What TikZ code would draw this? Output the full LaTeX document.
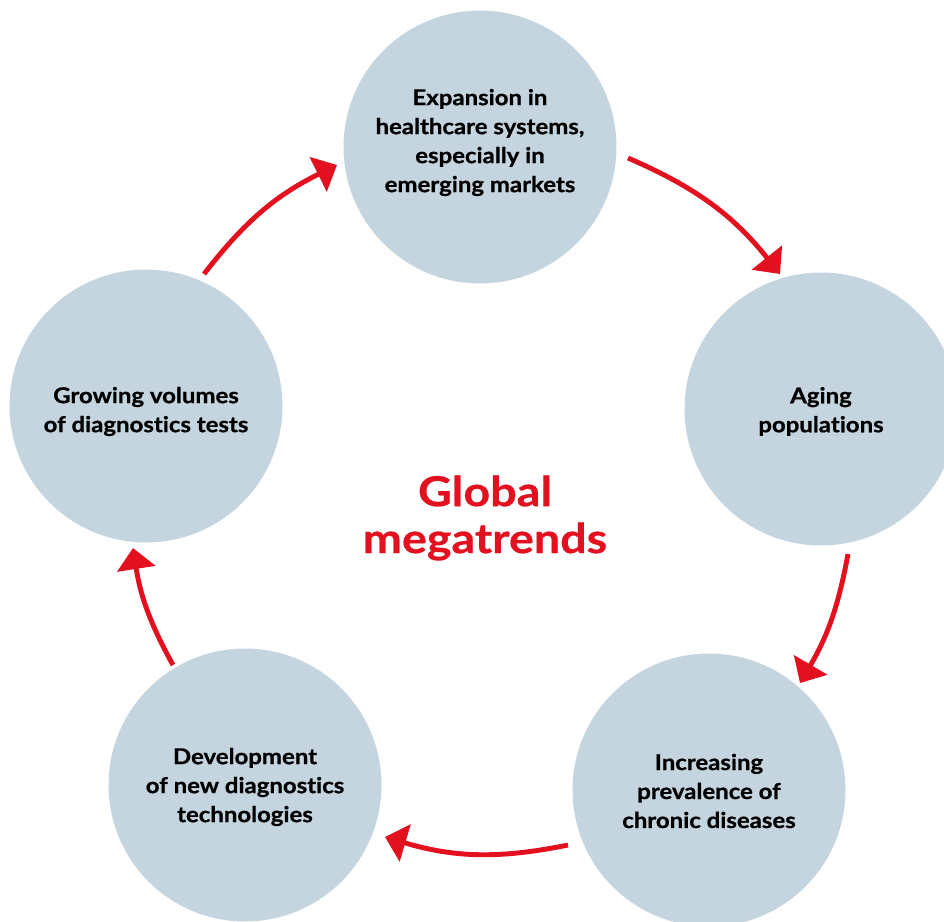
\documentclass[tikz,border=0pt]{standalone}
\usepackage{fontspec}
\setmainfont{Lato}
\newfontfamily\bubfont{Lato}[FakeStretch=1.1,FakeBold=0.8,Ligatures=NoCommon]
\newfontfamily\ttlfont{Lato}[FakeStretch=1.13,FakeBold=0.6,Ligatures=NoCommon]
\usetikzlibrary{arrows.meta}
\definecolor{bub}{RGB}{197,213,224}
\definecolor{mred}{RGB}{227,16,31}
\begin{document}
\begin{tikzpicture}[x=0.02cm,y=-0.02cm,
  bubble/.style={circle,fill=bub,minimum size=5.46cm,inner sep=0pt},
  btext/.style={font=\bubfont\bfseries\fontsize{12.4}{16.5}\selectfont,align=center,text=black,inner sep=0pt},
  arr/.style={draw=mred,line width=2.8pt,-{Triangle[length=12pt,width=21.6pt]}}]
\useasboundingbox (0,0) rectangle (944,921);
\clip (0,0) rectangle (944,921);
% circles
\node[bubble] (top) at (480,147) {};
\node[bubble] (right) at (821,409) {};
\node[bubble] (bright) at (709,790) {};
\node[bubble] (bleft) at (245,785) {};
\node[bubble] (left) at (146,406) {};
% texts
\node[btext] (ttop) at (480,142.5) {Expansion in\\healthcare systems,\\especially in\\emerging markets};
\node[btext] (tright) at (821,411.5) {Aging\\populations};
\node[btext] (tbright) at (709,791) {Increasing\\prevalence of\\chronic diseases};
\node[btext] (tbleft) at (245,787) {Development\\of new diagnostics\\technologies};
\node[btext] (tleft) at (146,411.5) {Growing volumes\\of diagnostics tests};
\node[font=\ttlfont\bfseries\fontsize{23.5}{26.7}\selectfont,align=center,text=mred,inner sep=0pt] (title) at (485,518) {Global\\megatrends};
% arrow ends
\coordinate (s1) at (628,158);  \coordinate (e1) at (780,274);
\coordinate (s2) at (848,554);  \coordinate (e2) at (800,683);
\coordinate (s3) at (568,845);  \coordinate (e3) at (385,837);
\coordinate (s4) at (173,665);  \coordinate (e4) at (133,548);
\coordinate (s5) at (204,274);  \coordinate (e5) at (337,165);
\draw[arr] (s1) to[bend left=14] (e1);
\draw[arr] (s2) to[bend left=10] (e2);
\draw[arr] (s3) to[bend left=14] (e3);
\draw[arr] (s4) to[bend left=10] (e4);
\draw[arr] (s5) to[bend left=13] (e5);
\end{tikzpicture}
\end{document}
